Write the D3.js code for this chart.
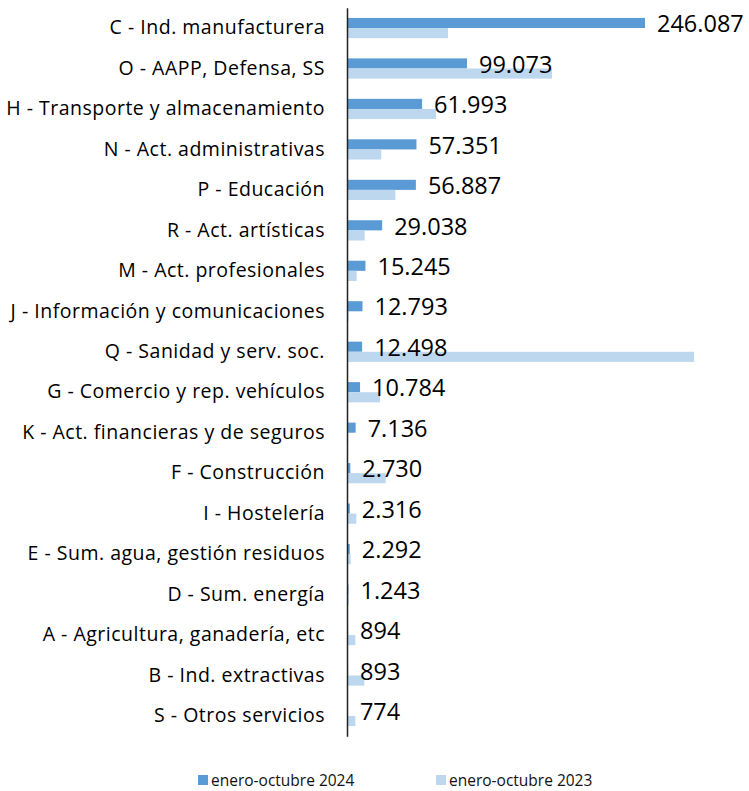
<!DOCTYPE html>
<html>
<head>
<meta charset="utf-8">
<script src="https://cdn.jsdelivr.net/npm/d3@7"></script>
<style>
  body { margin: 0; background: #fff; }
  svg { display: block; font-family: "Open Sans", Lato, sans-serif; }
</style>
</head>
<body>
<div id="chart"></div>
<script>
// sectors, sorted by 2024 value
const categories = [
  "C - Ind. manufacturera",
  "O - AAPP, Defensa, SS",
  "H - Transporte y almacenamiento",
  "N - Act. administrativas",
  "P - Educación",
  "R - Act. artísticas",
  "M - Act. profesionales",
  "J - Información y comunicaciones",
  "Q - Sanidad y serv. soc.",
  "G - Comercio y rep. vehículos",
  "K - Act. financieras y de seguros",
  "F - Construcción",
  "I - Hostelería",
  "E - Sum. agua, gestión residuos",
  "D - Sum. energía ",
  "A - Agricultura, ganadería, etc",
  "B - Ind. extractivas",
  "S - Otros servicios"
];
const values2024 = [246087, 99073, 61993, 57351, 56887, 29038, 15245, 12793, 12498, 10784, 7136, 2730, 2316, 2292, 1243, 894, 893, 774];
// 2023 has no labels in the original
const values2023 = [83400, 169300, 73500, 28300, 39900, 14600, 8000, 1200, 286600, 27300, 1000, 32000, 7700, 3000, 1500, 6900, 14300, 6900];
const seriesNames = ["enero-octubre 2024", "enero-octubre 2023"];
const colors = ["#5B9BD5", "#BDD7EE"];

const width = 749, height = 791;
const x0 = 347;

const rows = categories.map((c, i) => ({cat: c, v: [values2024[i], values2023[i]]}));

const svg = d3.select("#chart").append("svg")
  .attr("width", width)
  .attr("height", height);

const xScale = d3.scaleLinear()
  .domain([0, 300000])
  .range([x0, x0 + 300000 * 298 / 246087]);

const yScale = d3.scaleBand()
  .domain(categories)
  .range([7.8, 736.2])
  .padding(0);

const step = yScale.step();
const ySub = d3.scaleBand()
  .domain([0, 1])
  .range([step * 0.25, step * 0.75]);

// bars
const g = svg.selectAll(".row")
  .data(rows)
  .enter().append("g")
  .attr("transform", d => `translate(0,${yScale(d.cat)})`);

g.selectAll("rect")
  .data(d => d.v)
  .enter().append("rect")
  .attr("x", x0)
  .attr("y", (v, j) => ySub(j))
  .attr("width", v => xScale(v) - x0)
  .attr("height", ySub.bandwidth())
  .attr("fill", (v, j) => colors[j]);

// value labels for 2024 only
const fmt = v => d3.format(",")(v).replace(/,/g, ".");
g.append("text")
  .attr("x", d => xScale(d.v[0]) + 12)
  .attr("y", ySub(0) + ySub.bandwidth() / 2 + 1)
  .attr("dy", "0.35em")
  .attr("font-size", 23.5)
  .attr("fill", "#000")
  .text(d => fmt(d.v[0]));

// category axis
const yAxis = d3.axisLeft(yScale)
  .tickSize(0)
  .tickPadding(22);

const ax = svg.append("g")
  .attr("transform", `translate(${x0},0)`)
  .call(yAxis);
ax.select(".domain").attr("stroke", "#222").attr("stroke-width", 1.5);
ax.selectAll("text")
  .attr("font-family", "'Open Sans', sans-serif")
  .attr("font-size", 19.5)
  .attr("letter-spacing", 0.5)
  .attr("fill", "#000");

// legend
const legend = svg.append("g");
const legX = [198, 436];
seriesNames.forEach((s, i) => {
  legend.append("rect")
    .attr("x", legX[i]).attr("y", 775)
    .attr("width", 10).attr("height", 10)
    .attr("fill", colors[i]);
  legend.append("text")
    .attr("x", legX[i] + 13).attr("y", 785.5)
    .attr("font-size", 15.5)
    .attr("fill", "#111")
    .text(s);
});
</script>
</body>
</html>
